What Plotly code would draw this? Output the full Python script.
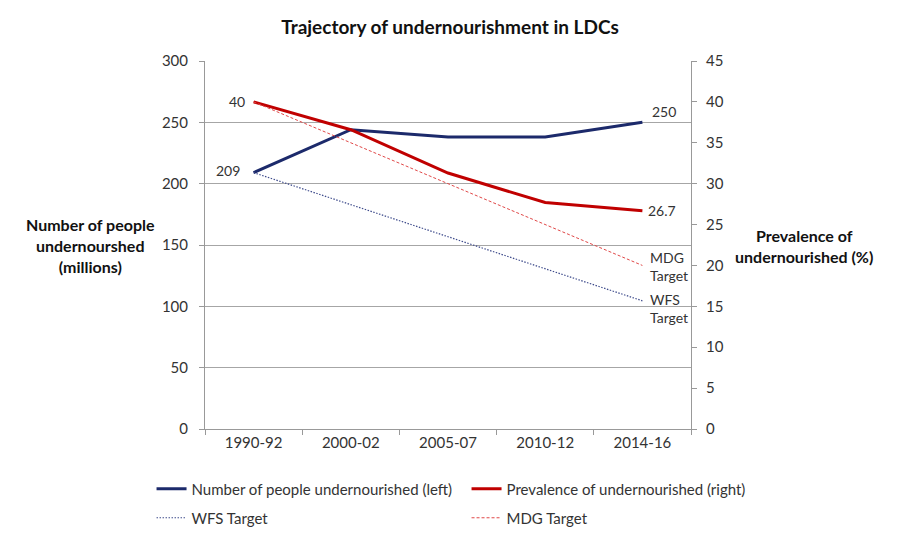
import plotly.graph_objects as go

periods = ["1990-92", "2000-02", "2005-07", "2010-12", "2014-16"]
people_millions = [209, 244, 238, 238, 250]
prevalence_pct = [40, 36.6, 31.3, 27.7, 26.7]
wfs_target = [209, 182.9, 156.8, 130.6, 104.5]
mdg_target = [40, 35, 30, 25, 20]

FONT = "Lato, 'Open Sans', sans-serif"
NAVY = "#1c2a6b"
RED = "#c00000"

fig = go.Figure()
fig.add_trace(go.Scatter(x=periods, y=people_millions, name="Number of people undernourished (left)",
                         mode="lines", line=dict(color=NAVY, width=3), yaxis="y", legend="legend"))
fig.add_trace(go.Scatter(x=periods, y=prevalence_pct, name="Prevalence of undernourished (right)",
                         mode="lines", line=dict(color=RED, width=3), yaxis="y2", legend="legend"))
fig.add_trace(go.Scatter(x=periods, y=wfs_target, name="WFS Target",
                         mode="lines", line=dict(color="#3f4c8c", width=1.2, dash="1.5px,1.5px"), yaxis="y", legend="legend2"))
fig.add_trace(go.Scatter(x=periods, y=mdg_target, name="MDG Target",
                         mode="lines", line=dict(color="#e04848", width=1, dash="3px,2px"), yaxis="y2", legend="legend2"))

anns = [
    dict(x=periods[0], y=people_millions[0], yref="y", text=str(people_millions[0]), xanchor="right", xshift=-12, yshift=2),
    dict(x=periods[-1], y=people_millions[-1], yref="y", text=str(people_millions[-1]), xanchor="left", xshift=8, yshift=11),
    dict(x=periods[0], y=prevalence_pct[0], yref="y2", text=str(prevalence_pct[0]), xanchor="right", xshift=-7, yshift=0),
    dict(x=periods[-1], y=prevalence_pct[-1], yref="y2", text=str(prevalence_pct[-1]), xanchor="left", xshift=4, yshift=0),
    dict(x=periods[-1], y=mdg_target[-1], yref="y2", text="MDG<br>Target", xanchor="left", xshift=6, yshift=-1, align="left"),
    dict(x=periods[-1], y=wfs_target[-1], yref="y", text="WFS<br>Target", xanchor="left", xshift=6, yshift=-8, align="left"),
]
for a in anns:
    a.update(xref="x", showarrow=False, font=dict(family=FONT, size=14, color="#333"))
    fig.add_annotation(**a)

# plot area: left 197, width 486, top 53, height 368 (figure coords)
fig.add_annotation(xref="paper", yref="paper", x=(82 - 197) / 486, y=0.5, xanchor="center", yanchor="middle",
                   text="<b>Number of people<br>undernourshed<br>(millions)</b>",
                   showarrow=False, align="center", font=dict(family=FONT, size=16, color="#111"))
fig.add_annotation(xref="paper", yref="paper", x=(796 - 197) / 486, y=(421 - 238) / 368, xanchor="center", yanchor="middle",
                   text="<b>Prevalence of<br>undernourished (%)</b>",
                   showarrow=False, align="center", font=dict(family=FONT, size=16, color="#111"))

leg_common = dict(orientation="h", xanchor="left", yanchor="middle", entrywidth=270, entrywidthmode="pixels",
                  font=dict(family=FONT, size=15, color="#333"), bgcolor="rgba(0,0,0,0)")

fig.update_layout(
    width=900, height=560,
    margin=dict(l=197, r=217, t=53, b=139),
    paper_bgcolor="white", plot_bgcolor="white",
    title=dict(text="<b>Trajectory of undernourishment in LDCs</b>", x=442 / 900, xanchor="center",
               y=1 - 19 / 560, yanchor="middle",
               font=dict(family=FONT, size=19, color="#111")),
    font=dict(family=FONT, size=15, color="#333"),
    showlegend=True,
    legend=dict(x=-0.11, y=(421 - 481) / 368, **leg_common),
    legend2=dict(x=-0.11, y=(421 - 510) / 368, **leg_common),
    xaxis=dict(type="category", showgrid=False, showline=True, linecolor="#999", linewidth=1,
               ticks="outside", tickson="boundaries", ticklen=5, tickcolor="#999",
               tickfont=dict(size=15, color="#333"), range=[-0.5, 4.5], zeroline=False),
    yaxis=dict(range=[0, 300], dtick=50, showgrid=True, gridcolor="#a6a6a6", gridwidth=1,
               showline=True, linecolor="#999", ticks="outside", ticklen=5, tickcolor="#999",
               zeroline=False, tickfont=dict(size=15, color="#333"), ticklabelstandoff=8),
    yaxis2=dict(range=[0, 45], dtick=5, overlaying="y", side="right", showgrid=False,
                showline=True, linecolor="#999", ticks="outside", ticklen=5, tickcolor="#999",
                zeroline=False, tickfont=dict(size=15, color="#333"), ticklabelstandoff=6),
)

fig.write_html("out.html")
